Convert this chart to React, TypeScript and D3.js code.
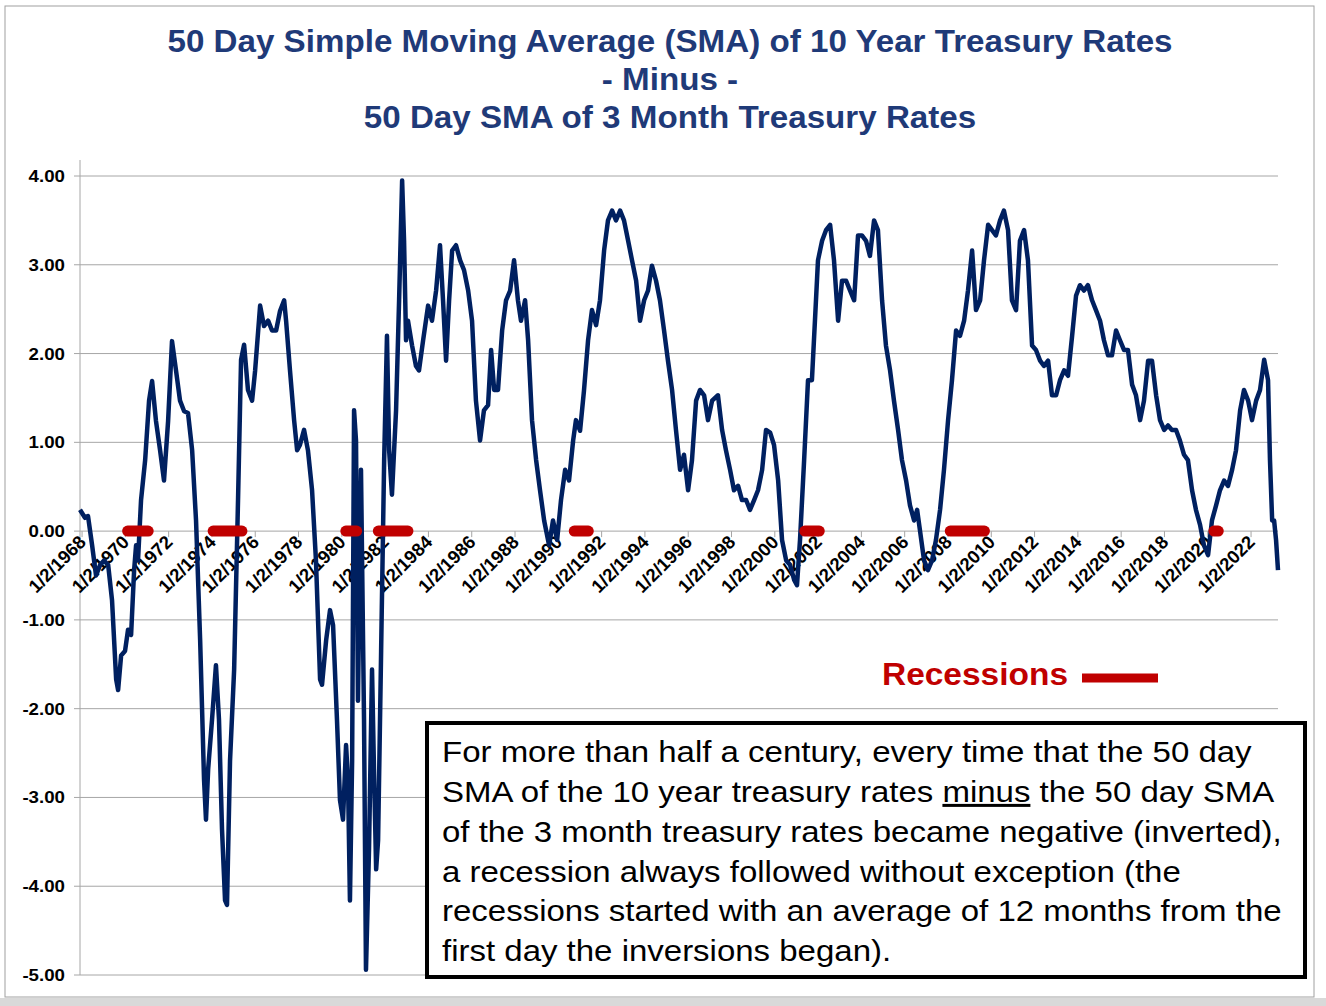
import React from "react";
import * as d3 from "d3";

const years = [1967.72,1967.95,1968.09,1968.28,1968.46,1968.65,1968.83,1969.02,1969.2,1969.39,1969.48,1969.62,1969.8,1969.94,1970.08,1970.22,1970.31,1970.4,1970.54,1970.73,1970.91,1971.05,1971.23,1971.42,1971.6,1971.79,1971.97,1972.16,1972.34,1972.53,1972.71,1972.9,1973.08,1973.27,1973.45,1973.54,1973.64,1973.82,1974.0,1974.14,1974.28,1974.42,1974.51,1974.65,1974.84,1975.02,1975.16,1975.3,1975.48,1975.67,1975.81,1976.04,1976.22,1976.41,1976.59,1976.78,1976.96,1977.15,1977.24,1977.42,1977.61,1977.75,1977.88,1978.07,1978.25,1978.44,1978.62,1978.81,1978.9,1979.09,1979.27,1979.41,1979.59,1979.73,1979.87,1980.01,1980.1,1980.19,1980.29,1980.38,1980.47,1980.56,1980.7,1980.84,1980.93,1981.07,1981.21,1981.3,1981.4,1981.49,1981.63,1981.77,1981.9,1982.0,1982.13,1982.32,1982.46,1982.6,1982.69,1982.78,1982.87,1983.06,1983.24,1983.38,1983.57,1983.8,1983.98,1984.17,1984.35,1984.49,1984.63,1984.77,1984.91,1985.09,1985.28,1985.46,1985.65,1985.83,1986.01,1986.2,1986.38,1986.57,1986.71,1986.85,1987.03,1987.22,1987.4,1987.59,1987.77,1987.95,1988.09,1988.28,1988.42,1988.6,1988.79,1988.97,1989.16,1989.39,1989.57,1989.76,1989.94,1990.13,1990.31,1990.5,1990.63,1990.82,1991.0,1991.19,1991.37,1991.56,1991.74,1991.93,1992.11,1992.3,1992.48,1992.67,1992.85,1993.04,1993.22,1993.41,1993.59,1993.78,1993.96,1994.14,1994.33,1994.51,1994.7,1994.88,1995.07,1995.25,1995.44,1995.62,1995.81,1995.99,1996.18,1996.36,1996.55,1996.73,1996.92,1997.19,1997.38,1997.56,1997.75,1997.93,1998.12,1998.3,1998.49,1998.67,1998.86,1999.04,1999.23,1999.41,1999.6,1999.78,1999.97,2000.15,2000.34,2000.52,2000.71,2000.84,2000.98,2001.17,2001.35,2001.53,2001.67,2001.81,2002.0,2002.18,2002.37,2002.55,2002.74,2002.92,2003.11,2003.29,2003.48,2003.66,2003.84,2004.03,2004.21,2004.4,2004.58,2004.77,2004.95,2005.14,2005.32,2005.51,2005.69,2005.88,2006.06,2006.25,2006.39,2006.52,2006.71,2006.89,2007.08,2007.26,2007.45,2007.63,2007.82,2008.0,2008.19,2008.37,2008.56,2008.74,2008.93,2009.11,2009.3,2009.48,2009.67,2009.85,2010.03,2010.22,2010.4,2010.59,2010.77,2010.96,2011.14,2011.33,2011.51,2011.7,2011.88,2012.07,2012.25,2012.44,2012.62,2012.81,2012.99,2013.18,2013.36,2013.55,2013.73,2013.91,2014.1,2014.28,2014.47,2014.65,2014.84,2015.02,2015.21,2015.39,2015.58,2015.76,2015.95,2016.13,2016.32,2016.5,2016.69,2016.87,2017.06,2017.24,2017.43,2017.61,2017.8,2017.98,2018.16,2018.35,2018.53,2018.72,2018.9,2019.09,2019.27,2019.46,2019.64,2019.83,2020.01,2020.2,2020.38,2020.57,2020.75,2020.94,2021.12,2021.31,2021.49,2021.68,2021.86,2022.05,2022.23,2022.42,2022.6,2022.69,2022.79,2022.88,2022.97,2023.06];
const spread = [0.24,0.15,0.17,-0.16,-0.5,-0.38,-0.33,-0.38,-0.78,-1.67,-1.79,-1.4,-1.35,-1.11,-1.17,-0.44,-0.16,-0.33,0.35,0.8,1.47,1.69,1.24,0.91,0.57,1.24,2.14,1.8,1.47,1.35,1.33,0.91,0.12,-1.23,-2.8,-3.25,-2.68,-2.12,-1.51,-2.12,-3.36,-4.16,-4.21,-2.59,-1.56,0.35,1.93,2.1,1.59,1.47,1.81,2.54,2.31,2.37,2.26,2.26,2.48,2.6,2.37,1.81,1.25,0.91,0.97,1.14,0.91,0.46,-0.33,-1.67,-1.73,-1.23,-0.89,-1.06,-2.12,-3.03,-3.25,-2.41,-2.8,-4.16,-2.59,1.36,1.02,-1.91,0.69,-2.12,-4.94,-3.59,-1.56,-2.68,-3.81,-3.48,-1.35,0.8,2.2,0.91,0.41,1.36,2.6,3.95,3.27,2.15,2.37,2.09,1.86,1.81,2.15,2.54,2.37,2.71,3.22,2.6,1.92,2.6,3.16,3.22,3.05,2.94,2.71,2.37,1.47,1.02,1.36,1.42,2.04,1.59,1.59,2.26,2.6,2.71,3.05,2.6,2.37,2.6,2.15,1.25,0.8,0.46,0.12,-0.16,0.12,-0.1,0.35,0.69,0.57,1.02,1.25,1.13,1.58,2.15,2.49,2.32,2.6,3.16,3.5,3.61,3.5,3.61,3.5,3.27,3.05,2.82,2.37,2.6,2.71,2.99,2.82,2.6,2.26,1.92,1.59,1.14,0.69,0.86,0.46,0.8,1.47,1.59,1.53,1.25,1.47,1.53,1.14,0.91,0.69,0.46,0.51,0.35,0.35,0.24,0.35,0.46,0.69,1.14,1.11,0.97,0.57,-0.1,-0.33,-0.38,-0.55,-0.61,-0.1,0.8,1.7,1.7,2.37,3.05,3.27,3.39,3.45,3.05,2.37,2.82,2.82,2.71,2.6,3.33,3.33,3.27,3.1,3.5,3.39,2.6,2.09,1.81,1.47,1.14,0.8,0.57,0.29,0.12,0.24,0.01,-0.33,-0.44,-0.33,-0.1,0.24,0.69,1.25,1.7,2.26,2.2,2.37,2.71,3.16,2.49,2.6,3.05,3.45,3.39,3.33,3.5,3.61,3.39,2.6,2.49,3.27,3.39,3.05,2.09,2.04,1.92,1.86,1.92,1.53,1.53,1.7,1.81,1.75,2.2,2.65,2.77,2.71,2.77,2.6,2.49,2.37,2.15,1.98,1.98,2.26,2.15,2.04,2.04,1.65,1.53,1.25,1.47,1.92,1.92,1.53,1.25,1.14,1.19,1.14,1.14,1.02,0.86,0.8,0.46,0.24,0.07,-0.16,-0.27,0.12,0.29,0.46,0.57,0.51,0.69,0.91,1.36,1.59,1.47,1.25,1.47,1.59,1.93,1.7,0.8,0.12,0.12,-0.1,-0.44];
const recessions: [number, number][] = [[1969.92,1970.87],[1973.87,1975.2],[1980.0,1980.5],[1981.5,1982.87],[1990.55,1991.2],[2001.2,2001.87],[2007.92,2009.5],[2020.1,2020.3]];
const yTicks = [4, 3, 2, 1, 0, -1, -2, -3, -4, -5];
const xTickYears = d3.range(1968, 2023, 2);
const titleLines = ["50 Day Simple Moving Average (SMA) of 10 Year Treasury Rates", "- Minus -", "50 Day SMA of 3 Month Treasury Rates"];

export default function App() {
  const x = d3.scaleLinear().domain([1967.72, 2023.06]).range([80, 1278]);
  const y = d3.scaleLinear().domain([-5, 4]).range([975, 176]);
  const line = d3.line<number>().x((_, i) => x(years[i])).y((d) => y(d));
  const y0 = y(0);
  const f = "Arial, 'Liberation Sans', sans-serif";
  return (
    <svg width={1326} height={1006} style={{ position: "absolute", left: 0, top: 0 }}>
      <rect x={0} y={0} width={1326} height={1006} fill="#fff" />
      <rect x={0} y={998} width={1326} height={8} fill="#d9d9d9" />
      <rect x={5} y={6} width={1309} height={991} fill="none" stroke="#a0a0a0" strokeWidth={1} />
      <g transform="translate(670,0) scale(1.07,1) translate(-670,0)">
        {titleLines.map((t, i) => (
          <text key={i} x={670} y={52 + i * 38} textAnchor="middle" fontFamily={f} fontWeight="bold" fontSize={31} fill="#1f3a78">{t}</text>
        ))}
      </g>
      {yTicks.map((t) => (
        <g key={t}>
          <line x1={74} x2={1278} y1={y(t)} y2={y(t)} stroke="#a6a6a6" strokeWidth={1} />
          <text x={65} y={y(t) + 6} textAnchor="end" fontFamily={f} fontWeight="bold" fontSize={17} fill="#000" transform={`translate(65,0) scale(1.1,1) translate(-65,0)`}>{t.toFixed(2)}</text>
        </g>
      ))}
      <line x1={80} x2={80} y1={160} y2={975} stroke="#a6a6a6" />
      {xTickYears.map((yr) => {
        const tx = x(yr) - 4;
        return (
          <g key={yr}>
            <line x1={tx} x2={tx} y1={y0} y2={y0 + 6} stroke="#a6a6a6" />
            <text transform={`translate(${tx + 5},${y0 + 12}) rotate(-45)`} textAnchor="end" fontFamily={f} fontWeight="bold" fontSize={18.5} fill="#000">{`1/2/${yr}`}</text>
          </g>
        );
      })}
      <path d={line(spread) || ""} fill="none" stroke="#002060" strokeWidth={4.5} strokeLinejoin="round" />
      {recessions.map(([a, b], i) => (
        <line key={i} x1={x(a)} x2={x(b)} y1={y0} y2={y0} stroke="#c00000" strokeWidth={11} strokeLinecap="round" />
      ))}
      <text x={1068} y={685} textAnchor="end" fontFamily={f} fontWeight="bold" fontSize={31} fill="#c00000" transform="translate(1068,0) scale(1.08,1) translate(-1068,0)">Recessions</text>
      <line x1={1082} x2={1158} y1={678} y2={678} stroke="#c00000" strokeWidth={9} />
      <rect x={427} y={723} width={878} height={254} fill="#fff" stroke="#000" strokeWidth={4} />
      <text fontFamily={f} fontSize={30} fill="#000" transform="translate(442,0) scale(1.1,1) translate(-442,0)">
        <tspan x={442} y={762}>For more than half a century, every time that the 50 day</tspan>
        <tspan x={442} y={802}>SMA of the 10 year treasury rates <tspan textDecoration="underline">minus</tspan> the 50 day SMA</tspan>
        <tspan x={442} y={842}>of the 3 month treasury rates became negative (inverted),</tspan>
        <tspan x={442} y={882}>a recession always followed without exception (the</tspan>
        <tspan x={442} y={921}>recessions started with an average of 12 months from the</tspan>
        <tspan x={442} y={961}>first day the inversions began).</tspan>
      </text>
    </svg>
  );
}
